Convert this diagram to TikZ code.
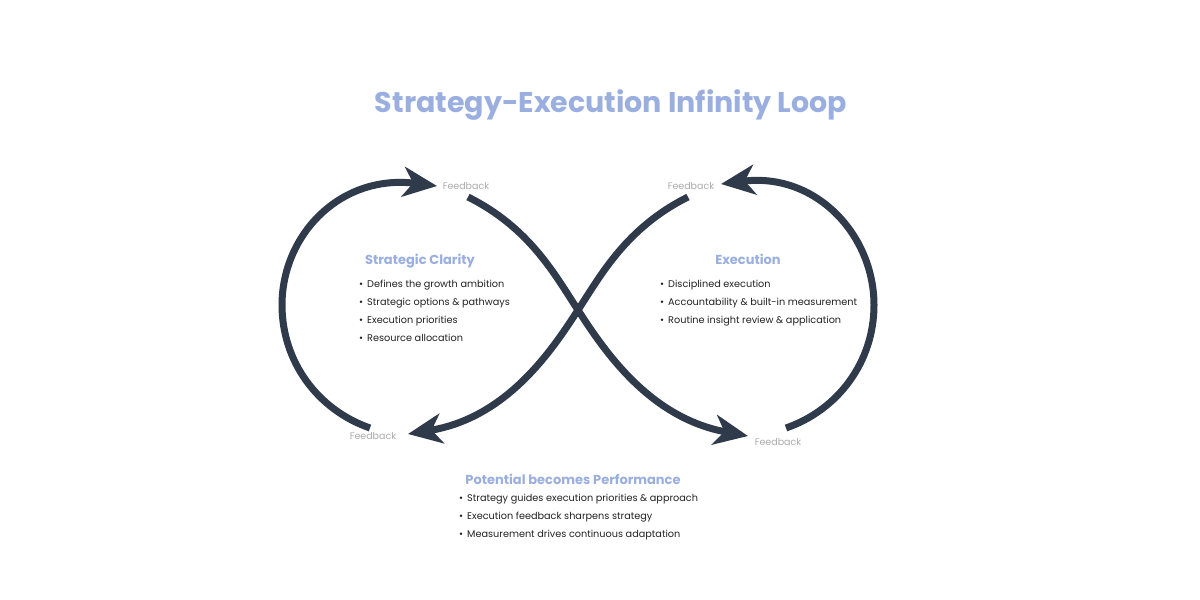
\documentclass[tikz,border=0pt]{standalone}
\usepackage{fontspec}
\setmainfont{Poppins}
\usetikzlibrary{arrows.meta}
\definecolor{loopc}{HTML}{2F3A4B}
\definecolor{accent}{HTML}{9AAFE0}
\definecolor{fbc}{HTML}{ABABAB}
\definecolor{bodyc}{HTML}{222222}
\tikzset{
  looparc/.style={draw=loopc, line width=7pt, line cap=butt,
    -{Stealth[length=34pt,width=30pt,inset=10pt]}},
  fbl/.style={text=fbc, font=\fontsize{9.5}{11}\selectfont, anchor=base, inner sep=0pt},
  head/.style={text=accent, font=\bfseries\fontsize{13}{15}\selectfont, anchor=base, inner sep=0pt},
  bl/.style={text=bodyc, font=\fontsize{9.7}{12}\selectfont, anchor=base west, inner sep=0pt},
  ttl/.style={text=accent, font=\bfseries\fontsize{28.5}{32}\selectfont, anchor=base, inner sep=0pt},
}
\newcommand{\bul}{\textbullet\hspace{4pt}}
\begin{document}
\begin{tikzpicture}[x=1pt,y=-1pt]
\path[use as bounding box, fill=white] (0,0) rectangle (1200,600);

% title
\node[ttl] (title) at (611,112) {Strategy-Execution Infinity Loop};

% loop end points
\coordinate (a1s) at (370,428);
\coordinate (a1e) at (437,186);
\coordinate (a2s) at (468,197);
\coordinate (a2e) at (748,436);
\coordinate (a3s) at (688,197);
\coordinate (a3e) at (408,434);
\coordinate (a4s) at (786,428);
\coordinate (a4e) at (721,184);
\coordinate (mid) at (578,310);

% arcs
\draw[looparc] (a1s) .. controls (318,410) and (282,362) .. (282,305)
  .. controls (282,235) and (340,174) .. (a1e);
\draw[looparc] (a2s) .. controls (530,228) and (555,275) .. (mid)
  .. controls (605,352) and (650,418) .. (a2e);
\draw[looparc] (a3s) .. controls (626,228) and (601,275) .. (mid)
  .. controls (551,352) and (506,418) .. (a3e);
\draw[looparc] (a4s) .. controls (838,410) and (874,362) .. (874,305)
  .. controls (874,235) and (816,172) .. (a4e);

% feedback labels
\node[fbl] (fb1) at (466,189) {Feedback};
\node[fbl] (fb2) at (691,189) {Feedback};
\node[fbl] (fb3) at (373,439) {Feedback};
\node[fbl] (fb4) at (778,445) {Feedback};

% strategic clarity
\node[head] (h1) at (420,264) {Strategic Clarity};
\node[bl] (l1a) at (359,287) {\bul Defines the growth ambition};
\node[bl] (l1b) at (359,305) {\bul Strategic options \& pathways};
\node[bl] (l1c) at (359,323) {\bul Execution priorities};
\node[bl] (l1d) at (359,341) {\bul Resource allocation};

% execution
\node[head] (h2) at (748,264) {Execution};
\node[bl] (l2a) at (660,287) {\bul Disciplined execution};
\node[bl] (l2b) at (660,305) {\bul Accountability \& built-in measurement};
\node[bl] (l2c) at (660,323) {\bul Routine insight review \& application};

% performance
\node[head] (h3) at (573,484) {Potential becomes Performance};
\node[bl] (l3a) at (459,501) {\bul Strategy guides execution priorities \& approach};
\node[bl] (l3b) at (459,519) {\bul Execution feedback sharpens strategy};
\node[bl] (l3c) at (459,537) {\bul Measurement drives continuous adaptation};
\end{tikzpicture}
\end{document}
